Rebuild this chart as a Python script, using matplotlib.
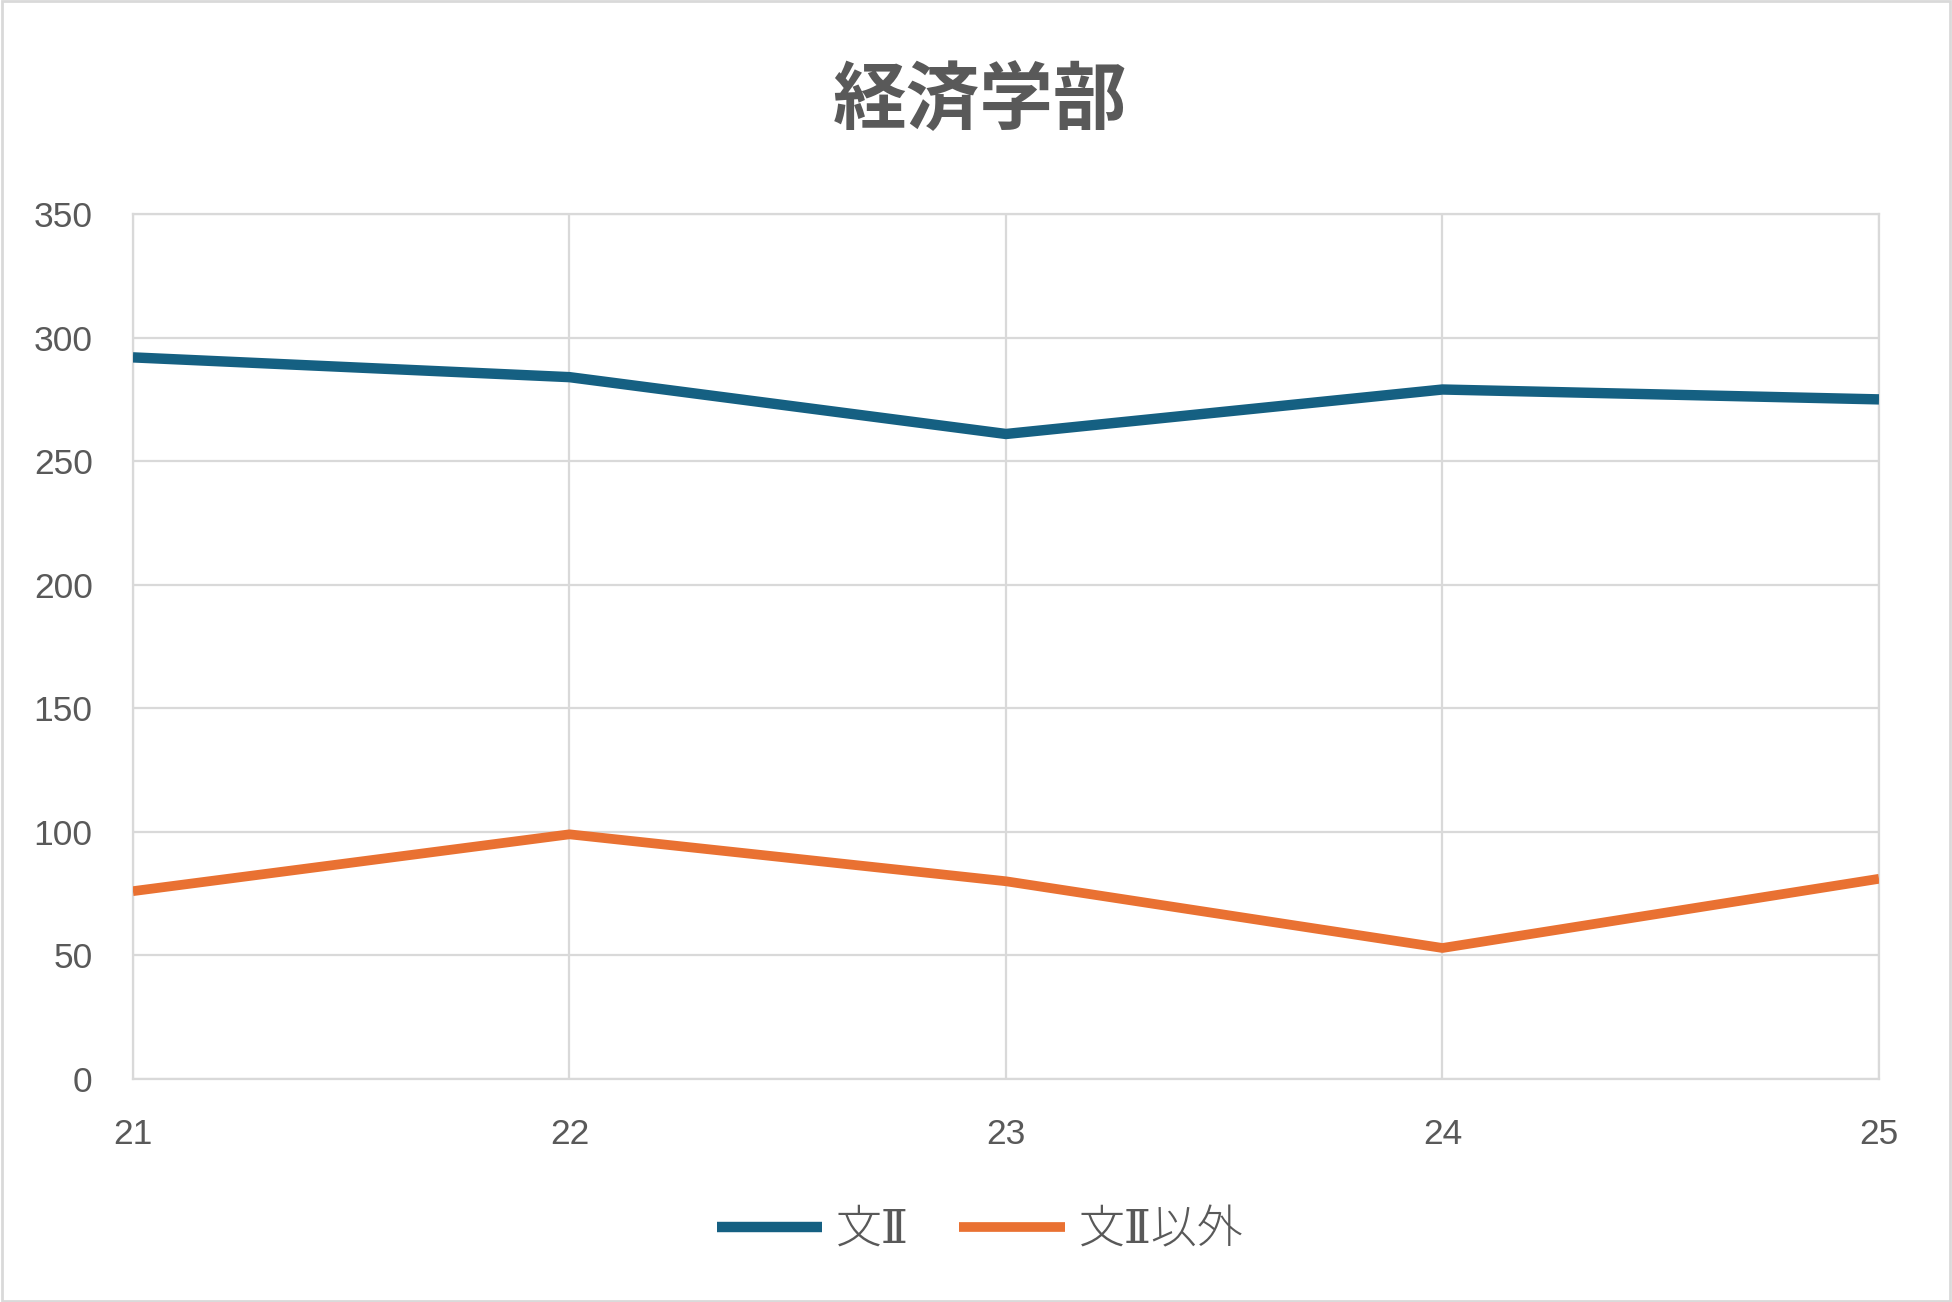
import matplotlib.pyplot as plt
import matplotlib.patches as patches

# ===== データ =====
years = [21, 22, 23, 24, 25]
bun2 = [292, 284, 261, 279, 275]        # 文Ⅱ
bun2_igai = [76, 99, 80, 53, 81]        # 文Ⅱ以外
y_ticks = [0, 50, 100, 150, 200, 250, 300, 350]

COLOR_BLUE = "#156082"
COLOR_ORANGE = "#E97132"
COLOR_GRID = "#D9D9D9"
COLOR_TEXT = "#595959"

plt.rcParams['font.family'] = ['Liberation Sans', 'Noto Sans CJK JP', 'DejaVu Sans']

fig = plt.figure(figsize=(19.52, 13.02), dpi=100)
ax = fig.add_axes([0.0681, 0.1713, 0.8945, 0.6643])

ax.plot(years, bun2, color=COLOR_BLUE, linewidth=7.5, label='文Ⅱ',
        solid_capstyle='butt', zorder=5)
ax.plot(years, bun2_igai, color=COLOR_ORANGE, linewidth=7.0, label='文Ⅱ以外',
        solid_capstyle='butt', zorder=5)

ax.set_xlim(21, 25)
ax.set_ylim(0, 350)
ax.set_xticks(years)
ax.set_yticks(y_ticks)

ax.grid(True, color=COLOR_GRID, linewidth=1.6)
ax.set_axisbelow(True)
for s in ax.spines.values():
    s.set_color(COLOR_GRID)
    s.set_linewidth(1.6)

ax.tick_params(axis='both', length=0, labelsize=25.5, colors=COLOR_TEXT)
ax.tick_params(axis='x', pad=28)
ax.tick_params(axis='y', pad=29)

fig.text(0.502, 0.922, '経済学部', ha='center', va='center', fontsize=53,
         fontweight='bold', color=COLOR_TEXT, family=['Noto Sans CJK JP'])

# Ⅱ は DejaVu Serif から、漢字は Noto から
leg = fig.legend(loc='center', bbox_to_anchor=(0.502, 0.055), ncol=2, frameon=False,
                 handlelength=2.3, columnspacing=1.1, handletextpad=0.3,
                 prop={'family': ['DejaVu Serif', 'Noto Sans CJK JP'], 'size': 33,
                       'weight': 'light'})
for t in leg.get_texts():
    t.set_color(COLOR_TEXT)

# 外枠
fig.patches.append(patches.Rectangle((0.001, 0.001), 0.998, 0.998, transform=fig.transFigure,
                                     fill=False, edgecolor=COLOR_GRID, linewidth=2))

fig.savefig('out.png', dpi=100)
